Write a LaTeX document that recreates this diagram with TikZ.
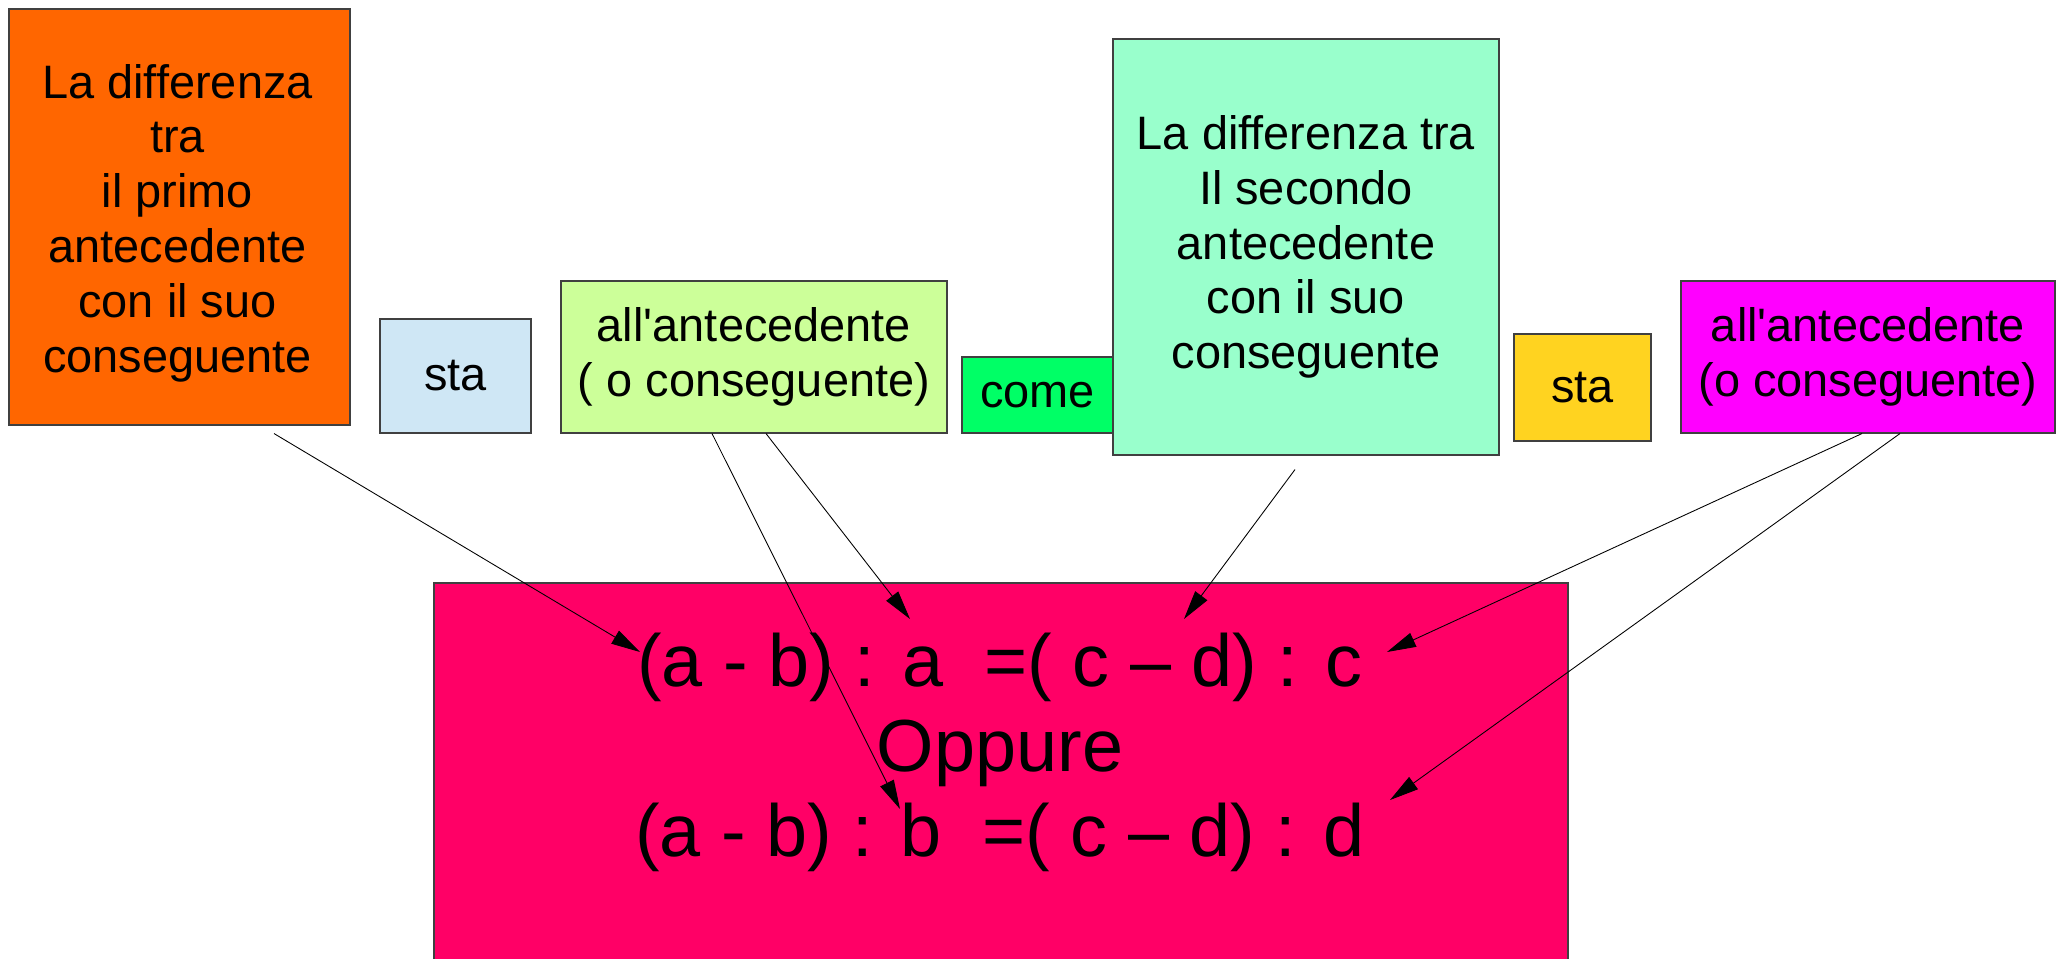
\documentclass[tikz,border=0pt]{standalone}
\usepackage{fontspec}
\setmainfont{Liberation Sans}
\usetikzlibrary{arrows.meta}

\definecolor{diffone}{HTML}{FF6600}
\definecolor{stablue}{HTML}{CFE7F5}
\definecolor{antegreen}{HTML}{CCFF99}
\definecolor{comegreen}{HTML}{00FF66}
\definecolor{difftwo}{HTML}{99FFCC}
\definecolor{stayellow}{HTML}{FFD320}
\definecolor{antemagenta}{HTML}{FF00FF}
\definecolor{formulapink}{HTML}{FF0066}

\begin{document}
\begin{tikzpicture}[
    box/.style={draw=black!75, line width=0.6pt, align=center, inner sep=0pt,
        font=\fontsize{26.7}{31.2}\selectfont},
    tallbox/.style={box, minimum width=6.82cm, minimum height=8.32cm},
    wordbox/.style={box, minimum width=3.02cm, minimum height=2.28cm},
    antebox/.style={box, minimum width=7.72cm, minimum height=3.04cm},
    boxtext/.style={align=center, inner sep=0pt,
        font=\fontsize{26.7}{31.2}\selectfont},
    formula/.style={align=center, inner sep=0pt,
        font=\fontsize{42}{48.5}\selectfont},
    arrow/.style={-{Triangle[length=0.58cm, width=0.3cm]}, line width=0.5pt}
]
    \useasboundingbox (0, 0) rectangle (41.12, -19.16);

    \node[tallbox, fill=diffone] (diff_first) at (3.59, -4.34) {};
    \node[boxtext] (diff_first_text) at (3.55, -4.46)
        {La differenza\\tra\\il primo\\antecedente\\con il suo\\conseguente};
    \node[wordbox, fill=stablue] (sta_left) at (9.11, -7.52) {sta};
    \node[antebox, fill=antegreen] (ante_left) at (15.08, -7.14)
        {all\textquotesingle antecedente\\( o conseguente)};
    \node[wordbox, fill=comegreen, minimum height=1.52cm]
        (come_word) at (20.75, -7.90) {come};
    \node[tallbox, fill=difftwo, minimum width=7.72cm]
        (diff_second) at (26.12, -4.94)
        {La differenza tra\\Il secondo\\antecedente\\con il suo\\conseguente};
    \node[wordbox, fill=stayellow, minimum width=2.74cm, minimum height=2.14cm]
        (sta_right) at (31.65, -7.75) {sta};
    \node[antebox, fill=antemagenta, minimum width=7.48cm]
        (ante_right) at (37.36, -7.14) {all\textquotesingle antecedente\\(o conseguente)};

    \node[box, fill=formulapink, minimum width=22.68cm, minimum height=8.34cm]
        (formula_box) at (20.02, -15.83) {};
    \node[formula] (formula) at (20.0, -15.05)
        {(a - b) : a~ =( c – d) : c\\Oppure\\(a - b) : b~ =( c – d) : d};

    % where the arrows leave the boxes
    \coordinate (diff_first_out) at ([xshift=1.89cm, yshift=-0.16cm]diff_first.south);
    \coordinate (ante_left_out_b) at ([xshift=-0.84cm]ante_left.south);
    \coordinate (ante_left_out_a) at ([xshift=0.24cm]ante_left.south);
    \coordinate (diff_second_out) at ([xshift=-0.22cm, yshift=-0.28cm]diff_second.south);
    \coordinate (ante_right_out_c) at ([xshift=-0.12cm]ante_right.south);
    \coordinate (ante_right_out_d) at ([xshift=0.64cm]ante_right.south);

    % where they point in the formula
    \coordinate (term_diff_ab) at (12.80, -13.04);
    \coordinate (term_b) at (18.00, -16.18);
    \coordinate (term_a) at (18.20, -12.38);
    \coordinate (term_diff_cd) at (23.68, -12.38);
    \coordinate (term_c) at (27.74, -13.04);
    \coordinate (term_d) at (27.80, -16.00);

    \draw[arrow] (diff_first_out) -- (term_diff_ab);
    \draw[arrow] (ante_left_out_b) -- (term_b);
    \draw[arrow] (ante_left_out_a) -- (term_a);
    \draw[arrow] (diff_second_out) -- (term_diff_cd);
    \draw[arrow] (ante_right_out_c) -- (term_c);
    \draw[arrow] (ante_right_out_d) -- (term_d);
\end{tikzpicture}
\end{document}
